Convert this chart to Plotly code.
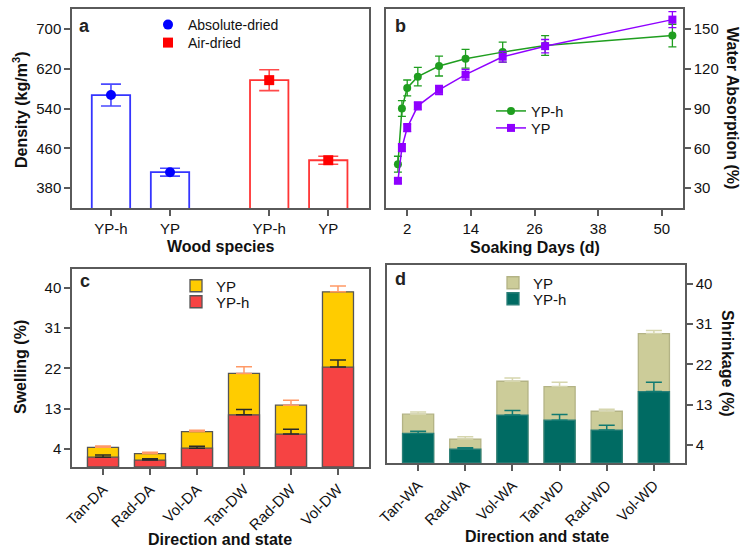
import plotly.graph_objects as go

W, H = 744, 551

# ---------------- data ----------------
# panel a
a_species = ["YP-h", "YP"]
a_abs = [567, 412]
a_abs_err = [22, 8]
a_air = [597, 436]
a_air_err = [21, 8]

# panel b
b_days = [0.25, 1, 2, 4, 8, 13, 20, 28, 52]
b_yph = [48, 90, 105.5, 114, 122, 127.5, 132.5, 137.5, 145]
b_yph_err = [6, 6, 6, 7, 7.5, 7, 7.5, 7.5, 8.5]
b_yp = [35.5, 60.5, 75.5, 92, 104, 115.5, 129, 137, 157]
b_yp_err = [2, 3, 3, 3, 3.5, 4, 4, 5, 6]

# panel c
c_cats = ["Tan-DA", "Rad-DA", "Vol-DA", "Tan-DW", "Rad-DW", "Vol-DW"]
c_yp = [4.4, 3.0, 7.9, 20.9, 13.8, 39.1]
c_yp_err = [0.3, 0.3, 0.3, 1.5, 1.1, 1.3]
c_yph = [2.2, 1.55, 4.2, 11.65, 7.35, 22.3]
c_yph_err = [0.5, 0.3, 0.45, 1.2, 1.1, 1.6]

# panel d
d_cats = ["Tan-WA", "Rad-WA", "Vol-WA", "Tan-WD", "Rad-WD", "Vol-WD"]
d_yp = [10.9, 5.35, 18.25, 17.05, 11.55, 28.9]
d_yp_err = [0.5, 0.5, 0.75, 1.0, 0.45, 0.7]
d_yph = [6.6, 3.1, 10.7, 9.55, 7.35, 15.95]
d_yph_err = [0.5, 0.3, 1.0, 1.25, 1.1, 2.1]

# ---------------- helpers ----------------
FONT = "Liberation Sans, Arial, sans-serif"
FRAME = "#5a5a5a"


def px_x(p):
    return p / W


def px_y(p):
    return 1 - p / H


fig = go.Figure()

# panel a positions (computed: second group shifted by a gap)
gap = 0.68
n_a = len(a_species)
a_pos_abs = [i + 1 for i in range(n_a)]
a_pos_air = [i + 1 + n_a + gap for i in range(n_a)]

fig.add_trace(go.Bar(x=a_pos_abs, y=a_abs, width=0.65, marker=dict(color="white", line=dict(color="#3535ff", width=1.8)),
                     showlegend=False, xaxis="x", yaxis="y", hoverinfo="skip"))
fig.add_trace(go.Bar(x=a_pos_air, y=a_air, width=0.65, marker=dict(color="white", line=dict(color="#ff3535", width=1.8)),
                     showlegend=False, xaxis="x", yaxis="y", hoverinfo="skip"))
fig.add_trace(go.Scatter(x=a_pos_abs, y=a_abs, mode="markers", name="Absolute-dried",
                         marker=dict(symbol="circle", color="#0000ff", size=10),
                         error_y=dict(type="data", array=a_abs_err, color="#4a4aff", thickness=1.6, width=10),
                         xaxis="x", yaxis="y", legend="legend"))
fig.add_trace(go.Scatter(x=a_pos_air, y=a_air, mode="markers", name="Air-dried",
                         marker=dict(symbol="square", color="#ff0000", size=10),
                         error_y=dict(type="data", array=a_air_err, color="#ff4a4a", thickness=1.6, width=10),
                         xaxis="x", yaxis="y", legend="legend2"))

# panel b
fig.add_trace(go.Scatter(x=b_days, y=b_yph, mode="lines+markers", name="YP-h",
                         line=dict(color="#1f9e1f", width=1.5), marker=dict(symbol="circle", size=8, color="#1f9e1f"),
                         error_y=dict(type="data", array=b_yph_err, color="#1f9e1f", thickness=1.3, width=4),
                         xaxis="x2", yaxis="y2", legend="legend3"))
fig.add_trace(go.Scatter(x=b_days, y=b_yp, mode="lines+markers", name="YP",
                         line=dict(color="#8f00ff", width=1.5), marker=dict(symbol="square", size=8, color="#8f00ff"),
                         error_y=dict(type="data", array=b_yp_err, color="#8f00ff", thickness=1.3, width=4),
                         xaxis="x2", yaxis="y2", legend="legend4"))

# panel c
fig.add_trace(go.Bar(x=c_cats, y=c_yp, name="YP", width=0.66,
                     marker=dict(color="#ffcc00", line=dict(color="#555555", width=1.3)),
                     error_y=dict(type="data", symmetric=False, array=c_yp_err, arrayminus=[0] * len(c_yp),
                                  color="#ff9966", thickness=1.5, width=8),
                     xaxis="x3", yaxis="y3", legend="legend5"))
fig.add_trace(go.Bar(x=c_cats, y=c_yph, name="YP-h", width=0.66,
                     marker=dict(color="#f64343", line=dict(color="#555555", width=1.3)),
                     error_y=dict(type="data", symmetric=False, array=c_yph_err, arrayminus=[0] * len(c_yph),
                                  color="#2a2a2a", thickness=1.5, width=8),
                     xaxis="x3", yaxis="y3", legend="legend6"))

# panel d
fig.add_trace(go.Bar(x=d_cats, y=d_yp, name="YP", width=0.66,
                     marker=dict(color="#cccc99", line=dict(color="#b3b385", width=1.3)),
                     error_y=dict(type="data", symmetric=False, array=d_yp_err, arrayminus=[0] * len(d_yp),
                                  color="#d6d6ae", thickness=1.5, width=8),
                     xaxis="x4", yaxis="y4", legend="legend7"))
fig.add_trace(go.Bar(x=d_cats, y=d_yph, name="YP-h", width=0.66,
                     marker=dict(color="#006b63", line=dict(color="#2a7f78", width=1.3)),
                     error_y=dict(type="data", symmetric=False, array=d_yph_err, arrayminus=[0] * len(d_yph),
                                  color="#117a72", thickness=1.5, width=8),
                     xaxis="x4", yaxis="y4", legend="legend8"))

axis_common = dict(showline=True, linecolor=FRAME, linewidth=1.5, mirror=True, ticks="outside",
                   ticklen=6, tickwidth=1.5, tickcolor=FRAME, showgrid=False, zeroline=False,
                   automargin=False, tickfont=dict(family=FONT, size=15, color="#111111"))

dom_a_x = [px_x(72), px_x(369)]
dom_b_x = [px_x(386), px_x(683)]
dom_top_y = [px_y(208), px_y(9)]
dom_c_y = [px_y(467), px_y(269)]
dom_d_x = [px_x(387), px_x(685)]
dom_d_y = [px_y(463), px_y(265)]


def leg(xp, yp, size=15):
    return dict(x=px_x(xp), y=px_y(yp), xanchor="left", yanchor="middle", bgcolor="rgba(0,0,0,0)",
                font=dict(family=FONT, size=size, color="#111111"), itemwidth=30, borderwidth=0)


fig.update_layout(
    template="none",
    width=W, height=H, margin=dict(l=0, r=0, t=0, b=0, autoexpand=False),
    paper_bgcolor="white", plot_bgcolor="white",
    barmode="overlay", bargap=0.3,
    font=dict(family=FONT, size=15, color="#111111"),
    xaxis=dict(axis_common, domain=dom_a_x, anchor="y", range=[0.34, 5.37],
               tickvals=a_pos_abs + a_pos_air, ticktext=a_species + a_species),
    yaxis=dict(axis_common, domain=dom_top_y, anchor="x", range=[340, 740],
               tickvals=[380, 460, 540, 620, 700]),
    xaxis2=dict(axis_common, domain=dom_b_x, anchor="y2", range=[-2, 54],
                tickvals=[2, 14, 26, 38, 50]),
    yaxis2=dict(axis_common, domain=dom_top_y, anchor="x2", side="right", range=[15, 165],
                tickvals=[30, 60, 90, 120, 150]),
    xaxis3=dict(axis_common, domain=dom_a_x, anchor="y3", range=[-0.66, 5.66], tickangle=-45,
                type="category"),
    yaxis3=dict(axis_common, domain=dom_c_y, anchor="x3", range=[0, 44.2],
                tickvals=[4, 13, 22, 31, 40]),
    xaxis4=dict(axis_common, domain=dom_d_x, anchor="y4", range=[-0.66, 5.66], tickangle=-45,
                type="category"),
    yaxis4=dict(axis_common, domain=dom_d_y, anchor="x4", side="right", range=[0, 44.2],
                tickvals=[4, 13, 22, 31, 40]),
    legend=leg(148, 25, 14),
    legend2=leg(148, 43, 14),
    legend3=leg(491, 111, 14.5),
    legend4=leg(491, 128, 14.5),
    legend5=leg(176, 286),
    legend6=leg(176, 302),
    legend7=leg(493, 283),
    legend8=leg(493, 299),
)

bold = dict(family=FONT, size=16, color="#111111")
annots = [
    ("<b>a</b>", 84, 26, 0, dict(family=FONT, size=18, color="#222")),
    ("<b>b</b>", 400, 26, 0, dict(family=FONT, size=18, color="#222")),
    ("<b>c</b>", 85, 281, 0, dict(family=FONT, size=18, color="#222")),
    ("<b>d</b>", 400, 279, 0, dict(family=FONT, size=18, color="#222")),
    ("<b>Density (kg/m<sup>3</sup>)</b>", 20, 110, -90, bold),
    ("<b>Wood species</b>", 220, 246, 0, bold),
    ("<b>Soaking Days (d)</b>", 535, 247, 0, bold),
    ("<b>Water Absorption (%)</b>", 733, 108, 90, bold),
    ("<b>Swelling (%)</b>", 20, 367, -90, bold),
    ("<b>Direction and state</b>", 220, 539, 0, bold),
    ("<b>Direction and state</b>", 537, 536, 0, bold),
    ("<b>Shrinkage (%)</b>", 728, 363, 90, bold),
]
for text, x, y, ang, f in annots:
    fig.add_annotation(text=text, x=px_x(x), y=px_y(y), xref="paper", yref="paper",
                       xanchor="center", yanchor="middle", showarrow=False, textangle=ang, font=f)

fig.write_html("out.html", config={"displayModeBar": False},
               post_script="document.body.style.margin='0px';")
